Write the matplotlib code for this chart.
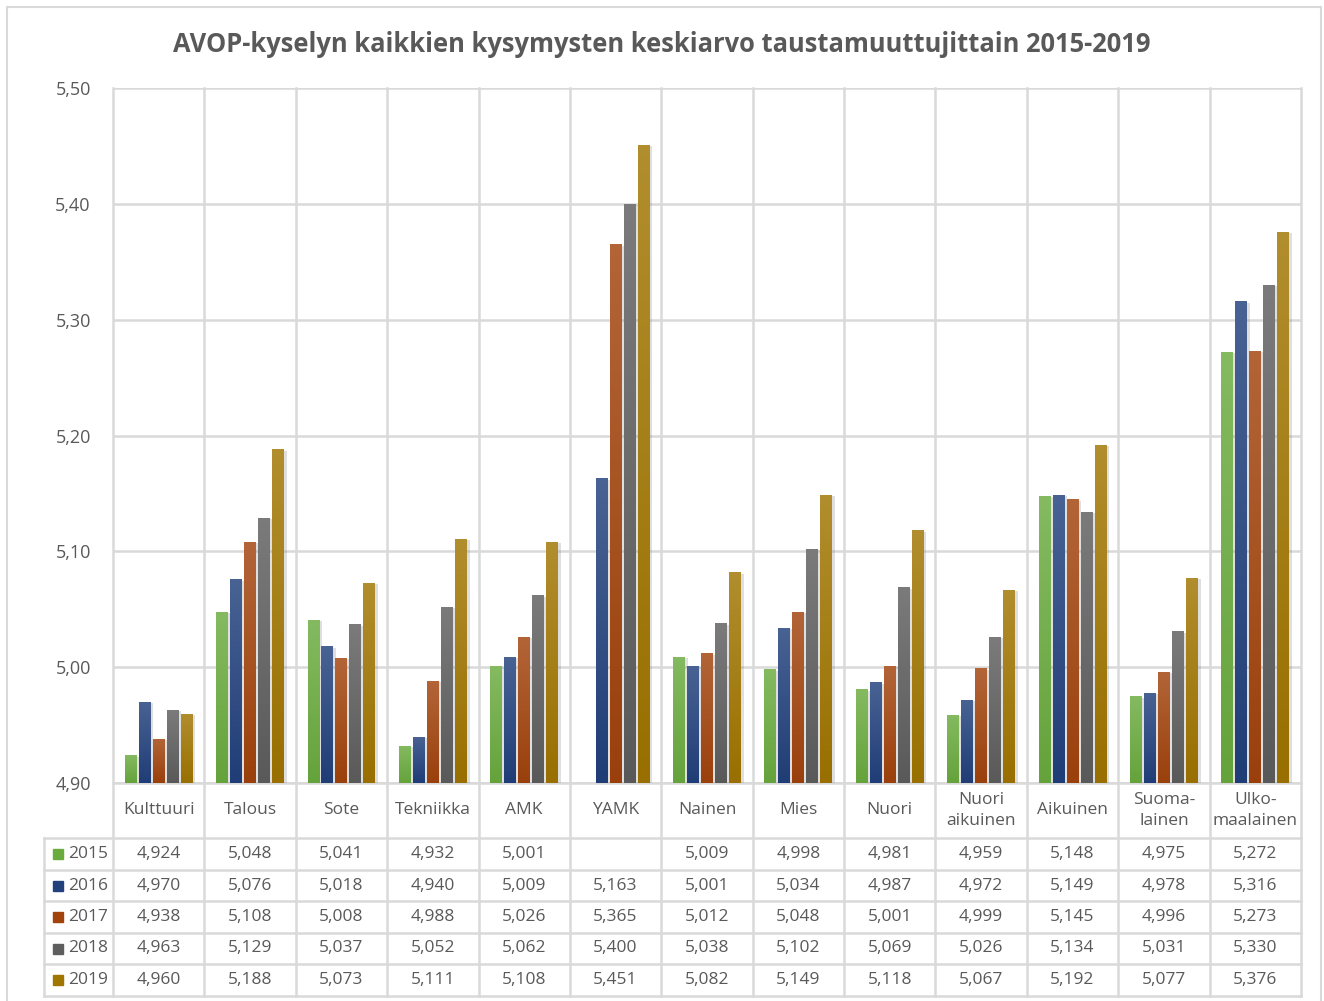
import numpy as np
import matplotlib
matplotlib.use('Agg')
import matplotlib.pyplot as plt
import matplotlib.transforms as mtransforms
import matplotlib.patheffects as pe
from matplotlib.colors import LinearSegmentedColormap, to_rgb
from matplotlib.patches import Rectangle
from matplotlib.ticker import FuncFormatter

plt.rcParams['font.family'] = ['Open Sans', 'DejaVu Sans']

categories = ['Kulttuuri', 'Talous', 'Sote', 'Tekniikka', 'AMK', 'YAMK', 'Nainen', 'Mies',
              'Nuori', 'Nuori\naikuinen', 'Aikuinen', 'Suoma-\nlainen', 'Ulko-\nmaalainen']
years = ['2015', '2016', '2017', '2018', '2019']
v2015 = [4.924, 5.048, 5.041, 4.932, 5.001, np.nan, 5.009, 4.998, 4.981, 4.959, 5.148, 4.975, 5.272]
v2016 = [4.970, 5.076, 5.018, 4.940, 5.009, 5.163, 5.001, 5.034, 4.987, 4.972, 5.149, 4.978, 5.316]
v2017 = [4.938, 5.108, 5.008, 4.988, 5.026, 5.365, 5.012, 5.048, 5.001, 4.999, 5.145, 4.996, 5.273]
v2018 = [4.963, 5.129, 5.037, 5.052, 5.062, 5.400, 5.038, 5.102, 5.069, 5.026, 5.134, 5.031, 5.330]
v2019 = [4.960, 5.188, 5.073, 5.111, 5.108, 5.451, 5.082, 5.149, 5.118, 5.067, 5.192, 5.077, 5.376]
series = [v2015, v2016, v2017, v2018, v2019]
colors = ['#6aab3e', '#21407c', '#a2430c', '#5e5e5e', '#a07500']

TEXT = '#595959'
GRID = '#d9d9d9'
BASE = 4.90

fig = plt.figure(figsize=(13.24, 10.01), dpi=100)
fig.patch.set_facecolor('white')
ax = fig.add_axes([113 / 1324, 1 - 783 / 1001, 1188 / 1324, 695 / 1001])

# outer chart border
fig.patches.append(Rectangle((7 / 1324, -0.01), 1314 / 1324, 1 - 7 / 1001 + 0.01,
                             transform=fig.transFigure, fill=False,
                             edgecolor=GRID, linewidth=1.5))

x = np.arange(len(categories))
pitch = 0.153
width = 0.131
grad = np.linspace(0, 1, 256).reshape(-1, 1)

for j, (vals, col) in enumerate(zip(series, colors)):
    vals = np.array(vals)
    ok = ~np.isnan(vals)
    bars = ax.bar(x[ok] + (j - 2) * pitch, vals[ok] - BASE, width, bottom=BASE,
                  color=col, zorder=2)
    c = np.array(to_rgb(col))
    cmap = LinearSegmentedColormap.from_list('g', [c * 0.95, c + (1 - c) * 0.18])
    for b in bars:
        b.set_path_effects([pe.SimplePatchShadow(offset=(2, -1), alpha=0.25,
                                                 shadow_rgbFace='#808080'), pe.Normal()])
        x0 = b.get_x()
        im = ax.imshow(grad, extent=[x0, x0 + b.get_width(), BASE, BASE + b.get_height()],
                       origin='lower', cmap=cmap, aspect='auto', zorder=3)
        im.set_clip_path(b)

ax.set_xlim(-0.5, len(categories) - 0.5)
ax.set_ylim(4.90, 5.50)
ax.set_yticks(np.arange(4.90, 5.501, 0.10))
ax.yaxis.set_major_formatter(FuncFormatter(lambda v, p: f'{v:.2f}'.replace('.', ',')))
ax.tick_params(axis='y', length=0, pad=16, labelsize=13, labelcolor=TEXT)
ax.set_xticks([])
ax.yaxis.grid(True, color=GRID, linewidth=1.8, zorder=0)
ax.set_axisbelow(True)
for s in ax.spines.values():
    s.set_visible(False)

# table geometry in axes y-coordinates
row_px = [783, 838, 870, 901, 933, 964, 996]
row_y = [(783 - p) / 695 for p in row_px]
trans = mtransforms.blended_transform_factory(ax.transData, ax.transAxes)
left = -69 / 1188

for i in range(len(categories) + 1):
    ax.plot([i - 0.5, i - 0.5], [1, row_y[-1]], transform=trans, color=GRID,
            linewidth=1.8, clip_on=False, zorder=1)
ax.plot([left, left], [row_y[1], row_y[-1]], transform=ax.transAxes, color=GRID,
        linewidth=1.8, clip_on=False)
for k, yy in enumerate(row_y):
    x0 = 0 if k == 0 else left
    ax.plot([x0, 1], [yy, yy], transform=ax.transAxes, color=GRID,
            linewidth=1.8, clip_on=False, zorder=1)

# category labels
for i, cat in enumerate(categories):
    ax.text(i, (row_y[0] + row_y[1]) / 2, cat, transform=trans, ha='center', va='center',
            fontsize=12.5, color=TEXT, linespacing=1.4)

# data rows
for k, (yr, vals, col) in enumerate(zip(years, series, colors)):
    yc = (row_y[k + 1] + row_y[k + 2]) / 2
    ax.add_patch(Rectangle((-60 / 1188, yc - 5 / 695), 10 / 1188, 10 / 695,
                           transform=ax.transAxes, color=col, clip_on=False))
    ax.text(-45 / 1188, yc, yr, transform=ax.transAxes, ha='left', va='center',
            fontsize=12.5, color=TEXT)
    for i, v in enumerate(vals):
        if np.isnan(v):
            continue
        ax.text(i, yc, f'{v:.3f}'.replace('.', ','), transform=trans, ha='center',
                va='center', fontsize=12.5, color=TEXT)

fig.text(0.5, 1 - 44 / 1001, 'AVOP-kyselyn kaikkien kysymysten keskiarvo taustamuuttujittain 2015-2019',
         ha='center', va='center', fontsize=18.4, fontweight='bold', color=TEXT)

fig.savefig('out.png', dpi=100, facecolor='white')
